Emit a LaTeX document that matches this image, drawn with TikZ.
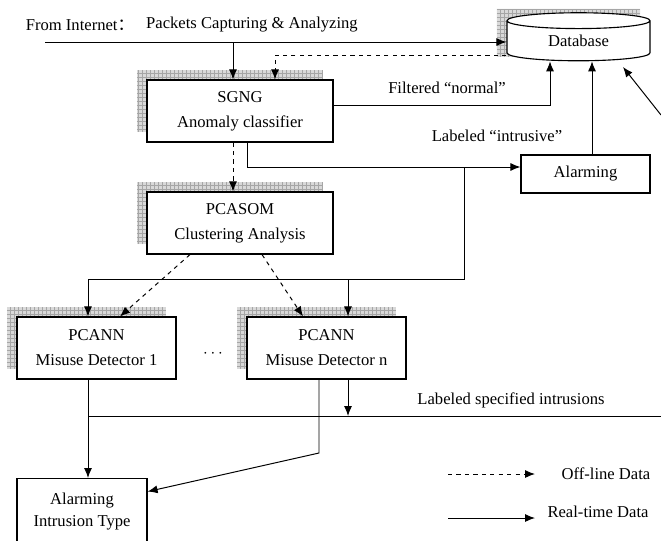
\documentclass[tikz,border=0pt]{standalone}
\usepackage{fontspec}
\setmainfont{Liberation Serif}
\newfontfamily\cjk{Noto Sans CJK SC}
\usetikzlibrary{arrows.meta,shapes.geometric,positioning,calc}

\begin{document}
\begin{tikzpicture}[
    x=0.025cm, y=-0.025cm,
    font=\fontsize{11.8}{17.7}\selectfont,
    box/.style={draw, line width=0.8pt, fill=white, align=center, inner sep=0pt, minimum width=4.65cm, minimum height=1.55cm},
    detector/.style={box, minimum width=3.975cm},
    grid shade/.style={draw=none, fill=gray!30, inner sep=0pt,
        path picture={\draw[gray!70, line width=0.3pt, step=1mm] (path picture bounding box.south west) grid (path picture bounding box.north east);}},
    store/.style={cylinder, shape border rotate=90, aspect=0.26, minimum width=3.575cm, minimum height=1.2cm, inner sep=0pt},
    arrow/.style={-{Latex[length=2.5mm,width=2mm]}, line width=0.7pt},
    line/.style={line width=0.7pt}
]
\clip (0,0) rectangle (661,540);

% shadows
\node[grid shade, minimum width=4.65cm, minimum height=1.55cm] (sgng-s) at (230,101) {};
\node[grid shade, minimum width=4.65cm, minimum height=1.55cm] (pcasom-s) at (230,213) {};
\node[grid shade, minimum width=3.975cm, minimum height=1.55cm] (pcann1-s) at (86.5,338) {};
\node[grid shade, minimum width=3.975cm, minimum height=1.55cm] (pcannn-s) at (316.5,338) {};
\node[store, grid shade] (db-s) at (568.5,33) {};

% boxes
\node[store, draw, line width=0.8pt, fill=white] (db) at (578.5,41) {Database};
\node[box] (sgng) at (240,111) {SGNG\\Anomaly classifier};
\node[box] (pcasom) at (240,223) {PCASOM\\Clustering Analysis};
\node[detector] (pcann1) at (96.5,348) {PCANN\\Misuse Detector 1};
\node[detector] (pcannn) at (326.5,348) {PCANN\\Misuse Detector n};
\node[box, minimum width=3.225cm, minimum height=0.95cm] (alarm) at (585.5,174) {Alarming};
\node[box, minimum width=3.25cm, minimum height=1.65cm, anchor=north] (alarmit) at (82,478) {Alarming\\[-1.5pt]Intrusion Type};
\node (dots) at (213,354) {$\cdots$};

% labels
\node (src) at (80,25) {From Internet{\cjk ：}};
\node (pkt) at (252,25) {Packets Capturing \& Analyzing};
\node (normal) at (447,88) {Filtered “normal”};
\node (intrusive) at (497,136) {Labeled “intrusive”};
\node (specified) at (511,400) {Labeled specified intrusions};

\coordinate (inet) at (45,42);
\coordinate (junc) at (464,167);
\coordinate (bus) at (88,279);
\coordinate (ext) at (661,115);
\coordinate (outR) at (661,416);
\coordinate (bend) at (319,453);
\coordinate (dbhit) at (623,67);

% real-time data
\draw[arrow] (inet) -- (inet -| db.west);
\draw[arrow] ([xshift=-0.175cm]sgng.north |- inet) -- ([xshift=-0.175cm]sgng.north);
\draw[arrow] ([yshift=0.15cm]sgng.east) -| ([xshift=-0.7125cm]db.south);
\draw[arrow] ([xshift=0.175cm]sgng.south) |- ([yshift=0.175cm]alarm.west);
\draw[arrow] ([xshift=0.1625cm]alarm.north) -- ([xshift=0.1625cm]alarm.north |- db.south);
\draw[arrow] (ext) -- (dbhit);
\draw[line] (junc) |- (bus);
\draw[arrow] (bus) -- (bus |- pcann1.north);
\draw[arrow] ([xshift=0.5375cm]pcannn.north |- bus) -- ([xshift=0.5375cm]pcannn.north);
\draw[arrow] ([xshift=-0.2125cm]pcann1.south) -- ([xshift=-0.2125cm]pcann1.south |- alarmit.north);
\draw[line] ([xshift=-0.2125cm]pcann1.south |- outR) -- (outR);
\draw[arrow] ([xshift=-0.1875cm]pcannn.south) -- (bend) -- ([yshift=0.5cm]alarmit.east);
\draw[arrow] ([xshift=0.5375cm]pcannn.south) -- ([xshift=0.5375cm]pcannn.south |- outR);

% off-line data
\draw[arrow, dashed] ([yshift=-0.35cm]db.west) -| ([xshift=0.875cm]sgng.north);
\draw[arrow, dashed] ([xshift=-0.175cm]sgng.south) -- ([xshift=-0.175cm]pcasom.north);
\draw[arrow, dashed] ([xshift=-1.25cm]pcasom.south) -- ([xshift=0.5875cm]pcann1.north);
\draw[arrow, dashed] ([xshift=0.55cm]pcasom.south) -- ([xshift=-0.5875cm]pcannn.north);

% legend
\coordinate (offa) at (448,474);
\coordinate (offb) at (535,474);
\coordinate (rta) at (448,518);
\coordinate (rtb) at (535,518);
\draw[arrow, dashed] (offa) -- (offb);
\node (offtext) at (606,474) {Off-line Data};
\draw[arrow] (rta) -- (rtb);
\node (rttext) at (598,512) {Real-time Data};
\end{tikzpicture}
\end{document}
